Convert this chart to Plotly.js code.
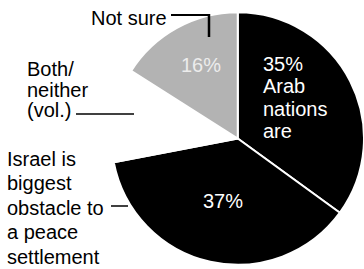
<!DOCTYPE html>
<html>
<head>
<meta charset="utf-8">
<script src="https://cdn.plot.ly/plotly-3.0.1.min.js"></script>
<style>html,body{margin:0;padding:0;background:#fff;}#chart{width:364px;height:269px;}</style>
</head>
<body>
<div id="chart"></div>
<script>
const categories = ['Arab nations are', 'Israel is biggest obstacle to a peace settlement', 'Both/neither (vol.)', 'Not sure'];
const values = [35, 37, 12, 16];
const arabLines = ['Arab', 'nations', 'are'];
const israelLines = ['Israel is', 'biggest', 'obstacle to', 'a peace', 'settlement'];
const bothLines = ['Both/', 'neither', '(vol.)'];
const notSureLabel = 'Not sure';

const W = 364, H = 269;
const px = x => x / W;
const py = y => 1 - y / H;
const FONT = 'Liberation Sans, Arial, Helvetica, sans-serif';

const sliceColors = ['#000000', '#000000', '#ffffff', '#b3b3b3'];

const trace = {
  type: 'pie',
  labels: categories,
  values: values,
  sort: false,
  direction: 'clockwise',
  rotation: 0,
  textinfo: 'none',
  hoverinfo: 'none',
  marker: { colors: sliceColors, line: { color: '#ffffff', width: 2 } },
  domain: { x: [px(111.5), 1], y: [py(265.5), py(11.5)] }
};

const annotations = [];
function addText(text, x, baseline, anchor, color, opacity) {
  annotations.push({
    xref: 'paper', yref: 'paper',
    x: px(x), y: py(baseline - 6.5),
    xanchor: anchor, yanchor: 'middle',
    text: text, showarrow: false,
    font: { family: FONT, size: 20, color: color },
    opacity: opacity === undefined ? 1 : opacity,
    borderpad: 0
  });
}
// Arab slice label
const arabText = [values[0] + '%'].concat(arabLines);
arabText.forEach((t, i) => addText(t, 262, 70 + i * 22.6, 'left', '#ffffff'));
// Israel slice percent
addText(values[1] + '%', 222.5, 207.5, 'center', '#ffffff');
// Not sure percent (faded)
addText(values[3] + '%', 201, 72, 'center', '#ffffff', 0.75);
// Outside labels
addText(notSureLabel, 168, 24, 'right', '#000000');
bothLines.forEach((t, i) => addText(t, 26, 75 + i * 21, 'left', '#000000'));
israelLines.forEach((t, i) => addText(t, 6, 165 + i * 24.5, 'left', '#000000'));

function seg(x0, y0, x1, y1, w) {
  return { type: 'line', xref: 'paper', yref: 'paper',
    x0: px(x0), y0: py(y0), x1: px(x1), y1: py(y1),
    line: { color: '#000000', width: w } };
}
const shapes = [
  seg(171, 15, 209, 15, 2),
  seg(209, 14, 209, 37, 2.5),
  seg(76, 114, 134, 114, 1.5),
  seg(111, 206, 128, 206, 1.5)
];

const layout = {
  width: W, height: H,
  margin: { l: 0, r: 0, t: 0, b: 0 },
  showlegend: false,
  paper_bgcolor: '#ffffff',
  annotations: annotations,
  shapes: shapes
};

Plotly.newPlot('chart', [trace], layout, { staticPlot: true, displayModeBar: false });
</script>
</body>
</html>
